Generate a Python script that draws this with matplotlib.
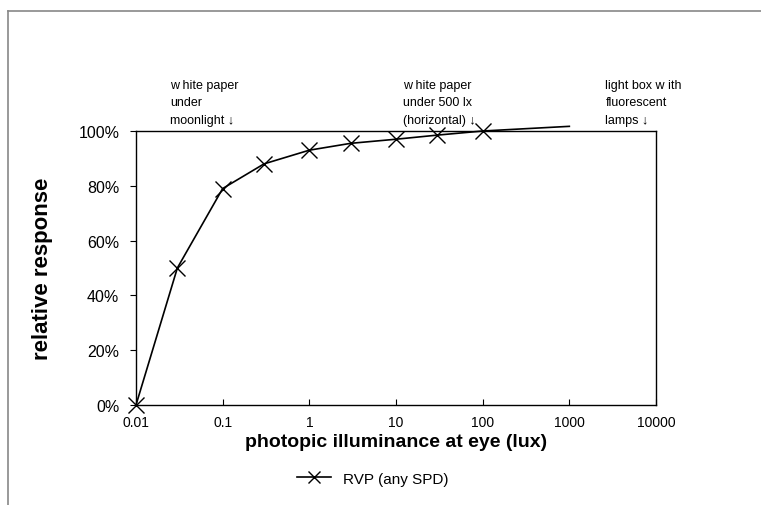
import matplotlib.pyplot as plt
from matplotlib.lines import Line2D
from matplotlib.ticker import FuncFormatter

plt.rcParams['font.family'] = ['Liberation Sans', 'DejaVu Sans']

# data
lux = [0.01, 0.03, 0.1, 0.3, 1, 3, 10, 30, 100, 1000]
rvp = [0.0, 0.50, 0.79, 0.88, 0.93, 0.955, 0.97, 0.985, 1.0, 1.017]
n_markers = 9

notes = ["w hite paper\nunder\nmoonlight \u2193",
         "w hite paper\nunder 500 lx\n(horizontal) \u2193",
         "light box w ith\nfluorescent\nlamps \u2193"]
note_x = [0.025, 12, 2600]

fig = plt.figure(figsize=(7.61, 5.06), dpi=100)
ax = fig.add_axes([136 / 761, 1 - 406 / 506, 520 / 761, 274 / 506])

ax.plot(lux, rvp, color='black', lw=1.2, marker='x', ms=11, mew=1.0,
        markevery=list(range(n_markers)), clip_on=False, zorder=3)

ax.set_xscale('log')
ax.set_xlim(0.01, 10000)
ax.set_ylim(0, 1.0)
ax.set_xticks([0.01, 0.1, 1, 10, 100, 1000, 10000])
ax.set_xticklabels(['0.01', '0.1', '1', '10', '100', '1000', '10000'])
ax.minorticks_off()
ax.set_yticks([0, 0.2, 0.4, 0.6, 0.8, 1.0])
ax.yaxis.set_major_formatter(FuncFormatter(lambda v, p: '%d%%' % round(v * 100)))
ax.tick_params(axis='y', direction='out', length=4, labelsize=11.5, pad=8)
ax.tick_params(axis='x', direction='in', length=4, labelsize=10, pad=7)
for s in ax.spines.values():
    s.set_linewidth(1.0)

ax.set_ylabel('relative response', fontsize=16, fontweight='bold', labelpad=18)
ax.set_xlabel('photopic illuminance at eye (lux)', fontsize=14, fontweight='bold', labelpad=3)

for t, x in zip(notes, note_x):
    ax.text(x, 1.02, t, fontsize=9, va='bottom', ha='left', linespacing=1.6)

# legend below
leg = fig.legend([Line2D([0], [0], color='black', lw=1.2, marker='x', ms=9)],
                 ['RVP (any SPD)'], loc='center', bbox_to_anchor=(0.49, 0.052),
                 frameon=False, fontsize=11, handlelength=2.2)

# partial outer frame from the scan
fig.add_artist(Line2D([8 / 761, 1], [1 - 12 / 506, 1 - 12 / 506], color='#888888', lw=1.2))
fig.add_artist(Line2D([8 / 761, 8 / 761], [0, 1 - 12 / 506], color='#888888', lw=1.2))

fig.savefig('out.png', dpi=100)
